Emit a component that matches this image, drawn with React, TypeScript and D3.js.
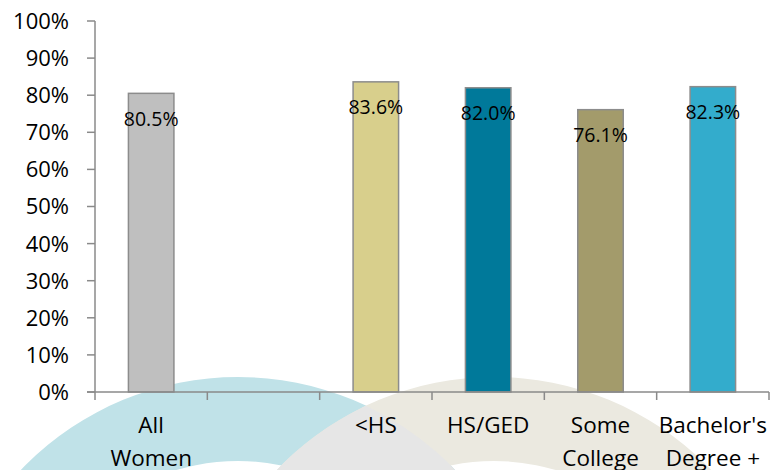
import React from "react";
import * as d3 from "d3";

const categories = ["All Women", "", "<HS", "HS/GED", "Some College", "Bachelor's Degree +"];
const categoryLines = [["All", "Women"], [], ["<HS"], ["HS/GED"], ["Some", "College"], ["Bachelor's", "Degree +"]];
const values: (number | null)[] = [80.5, null, 83.6, 82.0, 76.1, 82.3];
const barColors = ["#BFBFBF", "#FFFFFF", "#D8CF8C", "#00799A", "#A39B6B", "#33ACCC"];
const yTicks = [0, 10, 20, 30, 40, 50, 60, 70, 80, 90, 100];

const W = 770;
const H = 470;
const FONT = "'Open Sans', sans-serif";
const AXIS = "#8A8A8A";

export default function App() {
  const x = d3.scaleBand<string>().domain(categories).range([95, 769]).paddingInner(0).paddingOuter(0);
  const y = d3.scaleLinear().domain([0, 100]).range([392, 21]);
  const bw = x.bandwidth() * 0.405;

  // decorative background rings
  const c1 = { cx: 238, cy: 677, r: 300, ri: 216 };
  const c2 = { cx: 494, cy: 677, r: 300, ri: 216 };
  const lens = (() => {
    const d = c2.cx - c1.cx;
    const a = d / 2;
    const h = Math.sqrt(c1.r * c1.r - a * a);
    const mx = c1.cx + a;
    return `M ${mx} ${c1.cy - h} A ${c1.r} ${c1.r} 0 0 1 ${mx} ${c1.cy + h} A ${c2.r} ${c2.r} 0 0 1 ${mx} ${c1.cy - h} Z`;
  })();
  const ring = (c: { cx: number; cy: number; r: number; ri: number }) =>
    `M ${c.cx - c.r} ${c.cy} A ${c.r} ${c.r} 0 1 1 ${c.cx + c.r} ${c.cy} A ${c.r} ${c.r} 0 1 1 ${c.cx - c.r} ${c.cy} Z ` +
    `M ${c.cx - c.ri} ${c.cy} A ${c.ri} ${c.ri} 0 1 0 ${c.cx + c.ri} ${c.cy} A ${c.ri} ${c.ri} 0 1 0 ${c.cx - c.ri} ${c.cy} Z`;

  const [x0, x1] = x.range();
  const bounds = categories.map((c) => x(c) as number).concat([x1]);

  return (
    <svg width={W} height={H} style={{ position: "absolute", left: 0, top: 0, background: "#fff" }}>
      <rect x={0} y={0} width={W} height={H} fill="#fff" />
      <path d={ring(c1)} fill="#C0E2E8" fillRule="evenodd" />
      <path d={ring(c2)} fill="#EBE9E0" fillRule="evenodd" />
      <path d={lens} fill="#E6E6E6" />

      {/* y axis */}
      <line x1={x0} x2={x0} y1={y(100)} y2={y(0)} stroke={AXIS} strokeWidth={1.5} />
      {yTicks.map((t) => (
        <g key={t}>
          <line x1={x0 - 8} x2={x0} y1={y(t)} y2={y(t)} stroke={AXIS} strokeWidth={1.5} />
          <text x={69} y={y(t)} dy="0.36em" textAnchor="end" fontFamily={FONT} fontSize={22} fill="#000">
            {t}%
          </text>
        </g>
      ))}

      {/* bars */}
      {categories.map((c, i) => {
        const v = values[i];
        if (v == null) return null;
        const cx = (x(c) as number) + x.bandwidth() / 2;
        return (
          <g key={c}>
            <rect x={cx - bw / 2} y={y(v)} width={bw} height={y(0) - y(v)} fill={barColors[i]} stroke="#8C8C8C" strokeWidth={1.5} />
            <text x={cx} y={y(v) + 32.5} textAnchor="middle" fontFamily={FONT} fontSize={19.5} fill="#000">
              {v.toFixed(1)}%
            </text>
          </g>
        );
      })}

      {/* x axis */}
      <line x1={x0 - 8} x2={x1} y1={y(0)} y2={y(0)} stroke={AXIS} strokeWidth={1.5} />
      {bounds.map((b, i) => (
        <line key={i} x1={b} x2={b} y1={y(0)} y2={y(0) + 8} stroke={AXIS} strokeWidth={1.5} />
      ))}
      {categories.map((c, i) => {
        const cx = (x(c) as number) + x.bandwidth() / 2;
        return (
          <text key={c + i} textAnchor="middle" fontFamily={FONT} fontSize={22.5} fill="#000">
            {categoryLines[i].map((ln, j) => (
              <tspan key={j} x={cx} y={433 + j * 32.5}>
                {ln}
              </tspan>
            ))}
          </text>
        );
      })}
    </svg>
  );
}
